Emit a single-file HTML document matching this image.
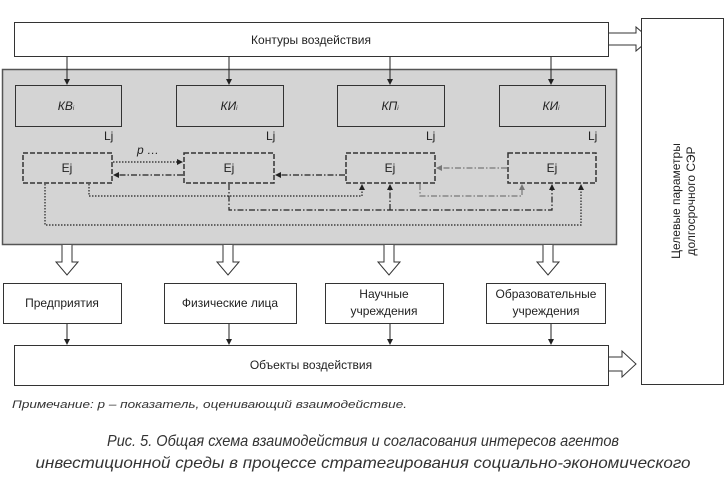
<!DOCTYPE html>
<html><head><meta charset="utf-8"><style>html,body{margin:0;padding:0;background:#fff}svg{display:block}</style></head><body>
<svg width="727" height="478" viewBox="0 0 727 478" xmlns="http://www.w3.org/2000/svg" font-family="Liberation Sans, sans-serif">
<defs>
<marker id="a" markerWidth="6" markerHeight="6" refX="5" refY="3" orient="auto" markerUnits="userSpaceOnUse"><path d="M0,0 L6,3 L0,6 z" fill="#222"/></marker>
<marker id="g" markerWidth="6" markerHeight="6" refX="5" refY="3" orient="auto" markerUnits="userSpaceOnUse"><path d="M0,0 L6,3 L0,6 z" fill="#777"/></marker>
</defs>
<rect x="0" y="0" width="727" height="478" fill="#fff"/>
<!-- top box -->
<rect x="14.5" y="22.5" width="594" height="34" fill="#fff" stroke="#333"/>
<text x="311" y="44" font-size="12" text-anchor="middle" fill="#222">Контуры воздействия</text>
<path d="M609,33 H636 V27 L650,39 L636,51 V45 H609" fill="#fff" stroke="#333"/>
<!-- right box -->
<rect x="641.5" y="18.5" width="82" height="366" fill="#fff" stroke="#333"/>
<text transform="translate(680,201) rotate(-90)" font-size="12" text-anchor="middle" fill="#222">Целевые параметры</text>
<text transform="translate(695,201) rotate(-90)" font-size="12" text-anchor="middle" fill="#222">долгосрочного СЭР</text>
<!-- gray panel -->
<rect x="2.5" y="69.5" width="614" height="175" fill="#d4d4d4" stroke="#555" stroke-width="1.5"/>
<!-- arrows from top -->
<g stroke="#222" stroke-width="1">
<line x1="67" y1="57" x2="67" y2="84" marker-end="url(#a)"/>
<line x1="229" y1="57" x2="229" y2="84" marker-end="url(#a)"/>
<line x1="390" y1="57" x2="390" y2="84" marker-end="url(#a)"/>
<line x1="551" y1="57" x2="551" y2="84" marker-end="url(#a)"/>
</g>
<!-- KB boxes -->
<g fill="#d4d4d4" stroke="#333">
<rect x="15.5" y="85.5" width="106" height="41"/>
<rect x="176.5" y="85.5" width="107" height="41"/>
<rect x="337.5" y="85.5" width="107" height="41"/>
<rect x="499.5" y="85.5" width="106" height="41"/>
</g>
<g font-size="12" font-style="italic" text-anchor="middle" fill="#222">
<text x="66" y="110">КВ<tspan font-size="6">i</tspan></text>
<text x="229" y="110">КИ<tspan font-size="6">i</tspan></text>
<text x="390" y="110">КП<tspan font-size="6">i</tspan></text>
<text x="551" y="110">КИ<tspan font-size="6">i</tspan></text>
</g>
<g font-size="12" fill="#222">
<text x="104" y="140">Lj</text><text x="266" y="140">Lj</text><text x="426" y="140">Lj</text><text x="588" y="140">Lj</text>
</g>
<!-- Ej boxes -->
<g fill="#d4d4d4" stroke="#333" stroke-width="1.5" stroke-dasharray="5,2">
<rect x="23" y="153" width="89" height="30"/>
<rect x="184" y="153" width="90" height="30"/>
<rect x="346" y="153" width="89" height="30"/>
<rect x="508" y="153" width="88" height="30"/>
</g>
<g font-size="12" text-anchor="middle" fill="#222">
<text x="67" y="172">Ej</text><text x="229" y="172">Ej</text><text x="390" y="172">Ej</text><text x="552" y="172">Ej</text>
</g>
<text x="137" y="154" font-size="12" font-style="italic" fill="#222">p …</text>
<!-- connectors -->
<g fill="none" stroke-width="1.2">
<line x1="113" y1="162" x2="182" y2="162" stroke="#222" stroke-dasharray="1.5,1.5" marker-end="url(#a)"/>
<line x1="183" y1="175" x2="114" y2="175" stroke="#222" stroke-dasharray="6,2,1.5,2" marker-end="url(#a)"/>
<line x1="345" y1="175" x2="276" y2="175" stroke="#222" stroke-dasharray="6,2,1.5,2" marker-end="url(#a)"/>
<line x1="507" y1="168" x2="437" y2="168" stroke="#777" stroke-dasharray="6,2,1.5,2" marker-end="url(#g)"/>
<path d="M89,184 V196 H362 V185" stroke="#222" stroke-dasharray="1.5,1.5" marker-end="url(#a)"/>
<path d="M229,184 V210 H552 V185" stroke="#222" stroke-dasharray="6,2,1.5,2" marker-end="url(#a)"/>
<path d="M390,210 V185" stroke="#222" stroke-dasharray="6,2,1.5,2" marker-end="url(#a)"/>
<path d="M420,184 V196 H522 V185" stroke="#777" stroke-dasharray="6,2,1.5,2" marker-end="url(#g)"/>
<path d="M45,184 V225 H581 V185" stroke="#222" stroke-dasharray="1.5,1.5" marker-end="url(#a)"/>
</g>
<!-- hollow down arrows -->
<g fill="#fff" stroke="#333">
<path d="M62,245 V262 H56 L67,275 L78,262 H72 V245"/>
<path d="M223,245 V262 H217 L228,275 L239,262 H233 V245"/>
<path d="M384,245 V262 H378 L389,275 L400,262 H394 V245"/>
<path d="M543,245 V262 H537 L548,275 L559,262 H553 V245"/>
</g>
<!-- bottom boxes -->
<g fill="#fff" stroke="#333">
<rect x="3.5" y="283.5" width="118" height="40"/>
<rect x="164.5" y="283.5" width="132" height="40"/>
<rect x="325.5" y="283.5" width="118" height="40"/>
<rect x="486.5" y="283.5" width="119" height="40"/>
</g>
<g font-size="12" text-anchor="middle" fill="#222">
<text x="62" y="307">Предприятия</text>
<text x="230" y="307">Физические лица</text>
<text x="384" y="298">Научные</text><text x="384" y="315">учреждения</text>
<text x="546" y="298">Образовательные</text><text x="546" y="315">учреждения</text>
</g>
<g stroke="#222">
<line x1="67" y1="324" x2="67" y2="344" marker-end="url(#a)"/>
<line x1="229" y1="324" x2="229" y2="344" marker-end="url(#a)"/>
<line x1="390" y1="324" x2="390" y2="344" marker-end="url(#a)"/>
<line x1="551" y1="324" x2="551" y2="344" marker-end="url(#a)"/>
</g>
<rect x="14.5" y="345.5" width="594" height="40" fill="#fff" stroke="#333"/>
<text x="311" y="369" font-size="12" text-anchor="middle" fill="#222">Объекты воздействия</text>
<path d="M609,357 H622 V351 L636,364 L622,377 V371 H609" fill="#fff" stroke="#333"/>
<text x="12" y="408" font-size="11" font-style="italic" fill="#333" textLength="395" lengthAdjust="spacingAndGlyphs">Примечание: p – показатель, оценивающий взаимодействие.</text>
<text x="363" y="446" font-size="16" font-style="italic" fill="#333" text-anchor="middle" textLength="512" lengthAdjust="spacingAndGlyphs">Рис. 5. Общая схема взаимодействия и согласования интересов агентов</text>
<text x="363" y="468" font-size="16" font-style="italic" fill="#333" text-anchor="middle" textLength="655" lengthAdjust="spacingAndGlyphs">инвестиционной среды в процессе стратегирования социально-экономического</text>
</svg>
</body></html>
